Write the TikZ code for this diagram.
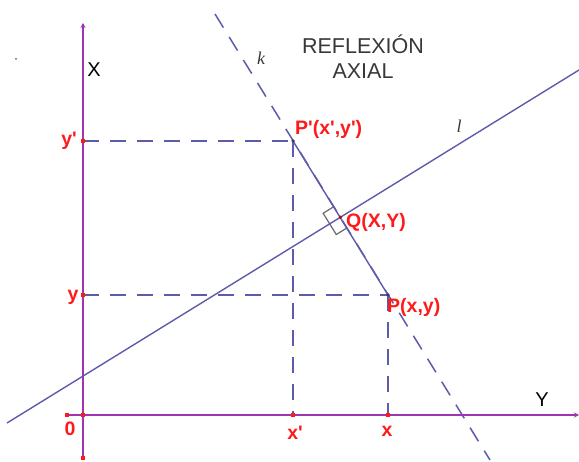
\documentclass[tikz,border=0pt]{standalone}
\usepackage{fontspec}
\setmainfont{Liberation Sans}
\newfontfamily\serifit{Liberation Serif}
\usetikzlibrary{arrows.meta,calc}
\definecolor{lineblue}{HTML}{5C5CAA}
\definecolor{axispurple}{HTML}{9E35B0}
\definecolor{ptred}{HTML}{FF1A1A}
\definecolor{titlegray}{HTML}{383838}
\definecolor{markgray}{HTML}{6A6A6A}
\begin{document}
\begin{tikzpicture}[x=1pt,y=-1pt,
  axis/.style={draw=axispurple, line width=1.6pt},
  solidline/.style={draw=lineblue, line width=1.4pt},
  dashline/.style={draw=lineblue, line width=1.7pt, dash pattern=on 16pt off 11pt},
  redlab/.style={text=ptred, font=\bfseries\fontsize{19.5}{19.5}\selectfont, inner sep=0pt},
  axlab/.style={text=black, font=\fontsize{20}{20}\selectfont, inner sep=0pt},
  linelab/.style={text=titlegray, font=\serifit\itshape\fontsize{18}{18}\selectfont, inner sep=0pt},
  titlelab/.style={text=titlegray, font=\fontsize{21.5}{21.5}\selectfont, inner sep=0pt},
  redpt/.style={fill=ptred, draw=none, inner sep=0pt, minimum size=4.2pt, rectangle},
  bluept/.style={fill=lineblue!60!black, draw=none, inner sep=0pt, minimum size=3.5pt, circle},
  anglemark/.style={draw=markgray, line width=1.2pt}]
\useasboundingbox (0,0) rectangle (579,462);

% key coordinates
\coordinate (O) at (83,415);
\coordinate (XaxTop) at (83,23);
\coordinate (XaxBot) at (83,458);
\coordinate (YaxLeft) at (67,415);
\coordinate (YaxRight) at (579,415);
\coordinate (L1) at (7,423);
\coordinate (L2) at (579,70);
\coordinate (K1) at (215,14);
\coordinate (K2) at (490,460);
\coordinate (Pp) at (293,141);
\coordinate (P) at (388,295);
\coordinate (Q) at (intersection of L1--L2 and K1--K2);
\coordinate (Yp) at (83,141);
\coordinate (Yq) at (83,295);
\coordinate (Xp) at (293,415);
\coordinate (Xq) at (388,415);

% right angle mark
\coordinate (MA) at ($(Q)!12.5pt!(Pp)$);
\coordinate (MB) at ($(Q)!12.5pt!(P)$);
\coordinate (MW) at ($(Q)!12.5pt!(L1)$);
\draw[anglemark] (MA) -- ($(MA)+(MW)-(Q)$) -- ($(MB)+(MW)-(Q)$) -- (MB);

% dashed construction lines
\draw[dashline] (Yp) -- (Pp);
\draw[dashline] (Pp) -- (Xp);
\draw[dashline] (Yq) -- (P);
\draw[dashline] (P) -- (Xq);
\draw[dashline, line width=1.5pt] (K1) -- (K2);

% axes
\draw[axis, -{Stealth[length=5pt,width=5pt]}] (XaxBot) -- (XaxTop);
\draw[axis, -{Stealth[length=5pt,width=5pt]}] (YaxLeft) -- (YaxRight);

% line l and segment P'P
\draw[solidline] (L1) -- (L2);
\draw[solidline] (Pp) -- (P);

% points
\foreach \c in {Yp,Yq,YaxLeft,O,XaxBot,Xp,Xq}{
  \node[redpt] at (\c) {};
}
\node[bluept] (PpDot) at (Pp) {};
\node[bluept] (PDot) at (P) {};
\node[fill=ptred!60!black, inner sep=0pt, minimum size=3.5pt, circle] (QDot) at (Q) {};
\node[fill=lineblue, inner sep=0pt, minimum size=2pt, circle] (stray) at (16,59) {};

% labels
\node[titlelab] (t1) at (363,44) {REFLEXIÓN};
\node[titlelab] (t2) at (363,71) {AXIAL};
\node[axlab] (labX) at (94,70) {X};
\node[axlab] (labY) at (542,400) {Y};
\node[linelab] (labk) at (261,58) {k};
\node[linelab] (labl) at (459,126) {l};

\node[redlab] (lyp) at (69,141) {y\textquotesingle};
\node[redlab] (ly) at (73,297) {y};
\node[redlab] (l0) at (70,429) {0};
\node[redlab] (lxp) at (295,433) {x\textquotesingle};
\node[redlab] (lx) at (387,431) {x};
\node[redlab, anchor=west] (lPp) at (295,129) {P\textquotesingle(x\textquotesingle,y\textquotesingle)};
\node[redlab, anchor=west] (lQ) at (346,222) {Q(X,Y)};
\node[redlab, anchor=west] (lP) at (387,307) {P(x,y)};
\end{tikzpicture}
\end{document}
